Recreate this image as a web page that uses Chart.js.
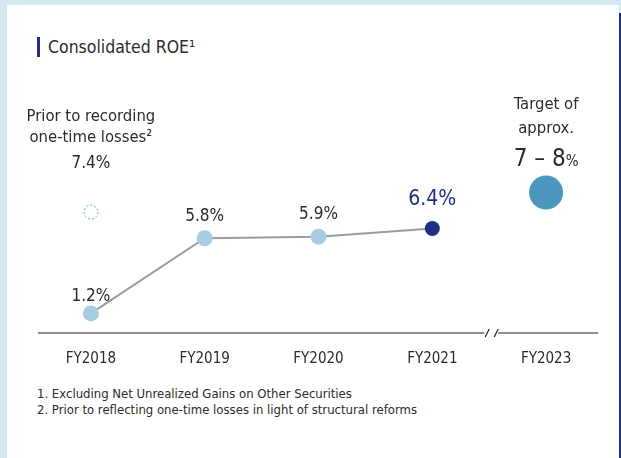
<!DOCTYPE html>
<html>
<head>
<meta charset="utf-8">
<script src="https://cdn.jsdelivr.net/npm/chart.js@4"></script>
<style>
  html,body{margin:0;padding:0;}
  body{width:621px;height:458px;background:#d6e7f1;position:relative;overflow:hidden;
    font-family:"Liberation Sans Narrow","DejaVu Sans Condensed",Roboto,sans-serif;color:#333;}
  #panel{position:absolute;left:7px;top:5px;width:612px;height:453px;background:#fff;}
  #edge{position:absolute;left:619px;top:13px;width:2px;height:445px;background:#1c2f84;}
  #title{position:absolute;left:37px;top:37px;height:20px;border-left:3px solid #1c2f84;
    padding-left:8px;font-size:17.5px;line-height:20px;color:#2b2b2b;}
  #notes{position:absolute;left:37px;top:386px;font-size:13px;line-height:15.5px;color:#2b2b2b;}
  #roeChart{position:absolute;left:0;top:0;}
</style>
</head>
<body>
<div id="panel"></div>
<div id="edge"></div>
<div id="title">Consolidated ROE¹</div>
<div id="notes">1. Excluding Net Unrealized Gains on Other Securities<br>2. Prior to reflecting one-time losses in light of structural reforms</div>
<canvas id="roeChart" width="621" height="458"></canvas>
<script>
// ================= DATOS =================
const categorias = ["FY2018","FY2019","FY2020","FY2021","FY2023"];
const roeValores = [1.2, 5.8, 5.9, 6.4, null];
const roeEtiquetas = ["1.2%","5.8%","5.9%","6.4%",""];
const previoValores = [7.4, null, null, null, null];   // antes de pérdidas únicas
const metaValores = [null, null, null, null, 8.6];     // posición del círculo objetivo (7-8%)

const FONT = '"Liberation Sans Narrow","DejaVu Sans Condensed",Roboto,sans-serif';
const TXT = "#2b2b2b";
const NAVY = "#1c2f84";

// círculo punteado para 7.4%
function circuloPunteado(){
  const c = document.createElement("canvas");
  c.width = 18; c.height = 18;
  const g = c.getContext("2d");
  g.strokeStyle = "#5d9fcb";
  g.lineWidth = 1;
  g.setLineDash([2,2]);
  g.beginPath(); g.arc(9,9,7,0,Math.PI*2); g.stroke();
  return c;
}

// ================= ETIQUETAS Y EJE =================
const etiquetasPlugin = {
  id:"etiquetas",
  afterDatasetsDraw(chart){
    const ctx = chart.ctx;
    const x = chart.scales.x, y = chart.scales.y;
    const ptsRoe = chart.getDatasetMeta(0).data;
    const ptPrev = chart.getDatasetMeta(1).data[0];
    const ptMeta = chart.getDatasetMeta(2).data[4];
    ctx.save();
    ctx.textAlign = "center";
    ctx.textBaseline = "middle";

    // valores ROE
    ptsRoe.forEach((p,i)=>{
      if(roeValores[i]===null) return;
      if(i===3){
        ctx.fillStyle = NAVY;
        ctx.font = "21px " + FONT;
        ctx.fillText(roeEtiquetas[i], p.x, p.y - 29);
      } else {
        ctx.fillStyle = TXT;
        ctx.font = "17px " + FONT;
        ctx.fillText(roeEtiquetas[i], p.x, p.y - (i===0 ? 17 : 22));
      }
    });

    // antes de pérdidas
    ctx.fillStyle = TXT;
    ctx.font = "16.5px " + FONT;
    ctx.fillText("Prior to recording", ptPrev.x, ptPrev.y - 95);
    ctx.fillText("one-time losses²", ptPrev.x, ptPrev.y - 74);
    ctx.font = "17px " + FONT;
    ctx.fillText(previoValores[0].toFixed(1) + "%", ptPrev.x, ptPrev.y - 49);

    // objetivo
    ctx.font = "16.5px " + FONT;
    ctx.fillText("Target of", ptMeta.x, ptMeta.y - 88);
    ctx.fillText("approx.", ptMeta.x, ptMeta.y - 64);
    const big = "7 – 8";
    ctx.font = "24px " + FONT;
    const wBig = ctx.measureText(big).width;
    ctx.font = "15px " + FONT;
    const wPct = ctx.measureText("%").width;
    const x0 = ptMeta.x - (wBig + wPct)/2;
    ctx.textAlign = "left";
    ctx.textBaseline = "alphabetic";
    ctx.font = "24px " + FONT;
    ctx.fillText(big, x0, ptMeta.y - 27);
    ctx.font = "15px " + FONT;
    ctx.fillText("%", x0 + wBig, ptMeta.y - 27);

    // eje con corte
    const ay = y.getPixelForValue(0);
    const xa = x.getPixelForValue(0) - 53;
    const xb = x.getPixelForValue(4) + 52;
    const xc = (x.getPixelForValue(3) + x.getPixelForValue(4))/2 + 3;
    ctx.strokeStyle = "#222";
    ctx.lineWidth = 1.2;
    ctx.beginPath();
    ctx.moveTo(xa, ay); ctx.lineTo(xc - 8, ay);
    ctx.moveTo(xc + 6, ay); ctx.lineTo(xb, ay);
    ctx.moveTo(xc - 7, ay + 4); ctx.lineTo(xc - 3, ay - 4);
    ctx.moveTo(xc + 2, ay + 4); ctx.lineTo(xc + 6, ay - 4);
    ctx.stroke();
    ctx.restore();
  }
};

// ================= GRÁFICA =================
const ctx = document.getElementById("roeChart").getContext("2d");
new Chart(ctx,{
  type:"line",
  data:{
    labels:categorias,
    datasets:[
      {
        data:roeValores,
        borderColor:"#9b9b9b",
        borderWidth:2,
        spanGaps:false,
        pointRadius:[8,8,8,7.5,0],
        pointBackgroundColor:["#a7cee0","#a7cee0","#a7cee0",NAVY,"#a7cee0"],
        pointBorderWidth:0
      },
      {
        data:previoValores,
        showLine:false,
        pointStyle:circuloPunteado(),
        pointRadius:9
      },
      {
        data:metaValores,
        showLine:false,
        pointRadius:17,
        pointBackgroundColor:"#4b97bd",
        pointBorderWidth:0
      }
    ]
  },
  options:{
    responsive:false,
    animation:false,
    events:[],
    layout:{padding:{left:34,right:18,top:88,bottom:73}},
    plugins:{legend:{display:false},tooltip:{enabled:false}},
    scales:{
      x:{
        offset:true,
        grid:{display:false,drawTicks:false},
        border:{display:false},
        ticks:{color:TXT,font:{family:FONT,size:15},padding:17}
      },
      y:{display:false,min:0,max:15}
    }
  },
  plugins:[etiquetasPlugin]
});
</script>
</body>
</html>
